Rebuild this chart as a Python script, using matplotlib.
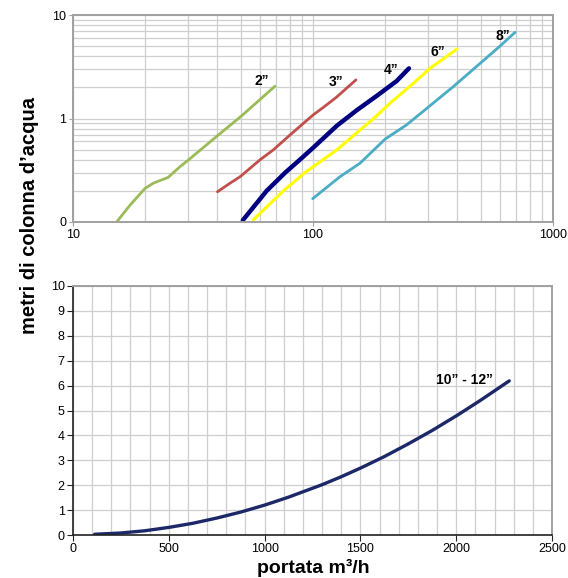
import matplotlib
matplotlib.use("Agg")
import matplotlib.pyplot as plt
from matplotlib.ticker import FixedLocator, NullFormatter, LogLocator

# ---- data ----
# top chart: log-log, portata (m3/h) vs metri di colonna d'acqua
x_2 = [15.2, 17.3, 20.0, 21.6, 24.9, 27.9, 30.0, 40.0, 50.4, 69.4]
y_2 = [0.10, 0.146, 0.212, 0.237, 0.27, 0.342, 0.391, 0.682, 1.06, 2.05]

x_3 = [40.0, 45.1, 49.7, 60.0, 68.3, 80.2, 100, 110.4, 125, 151]
y_3 = [0.196, 0.237, 0.274, 0.397, 0.497, 0.693, 1.08, 1.28, 1.6, 2.36]

x_4 = [51.0, 64.1, 76.6, 88.2, 100, 125.6, 152, 184, 223, 251]
y_4 = [0.104, 0.2, 0.3, 0.4, 0.52, 0.85, 1.2, 1.65, 2.3, 3.05]

x_6 = [56.4, 75.3, 92.6, 125.6, 157, 179, 209, 230, 262, 307, 398]
y_6 = [0.105, 0.2, 0.3, 0.497, 0.774, 1.0, 1.40, 1.69, 2.19, 3.05, 4.69]

x_8 = [99.7, 129.6, 157, 200, 245, 300, 384, 497, 601, 695]
y_8 = [0.168, 0.274, 0.37, 0.634, 0.865, 1.27, 2.03, 3.41, 5.0, 6.8]

top_labels = ["2”", "3”", "4”", "6”", "8”"]
top_label_x = [61, 125, 212, 330, 615]
top_label_y = [2.32, 2.23, 2.96, 4.36, 6.3]

# bottom chart: linear
x_10 = [113, 250, 375, 504, 625, 750, 875, 1000, 1125, 1300, 1400,
        1504, 1625, 1750, 1875, 2008, 2125, 2277]
y_10 = [0.03, 0.08, 0.17, 0.31, 0.47, 0.68, 0.92, 1.2, 1.52, 2.02, 2.34,
        2.7, 3.15, 3.66, 4.2, 4.82, 5.4, 6.19]
bottom_label = "10” - 12”"

top_xticks = [10, 100, 1000]
top_xticklabels = ["10", "100", "1000"]
top_yticks = [0.1, 1, 10]
top_yticklabels = ["0", "1", "10"]
bot_xticks = [0, 500, 1000, 1500, 2000, 2500]
bot_yticks = list(range(0, 11))

# ---- figure ----
W, H = 568, 578
fig = plt.figure(figsize=(W / 100, H / 100), dpi=100)
tickfont = ['Liberation Sans', 'DejaVu Sans']
narrow = ['Liberation Sans Narrow', 'Liberation Sans', 'DejaVu Sans']
gridc = '#cfcfcf'
spinec = '#a0a0a0'

ax1 = fig.add_axes([73 / W, 1 - 222 / H, 480 / W, 207 / H])
ax1.set_xscale('log')
ax1.set_yscale('log')
ax1.set_xlim(10, 1000)
ax1.set_ylim(0.1, 10)
ax1.xaxis.set_major_locator(FixedLocator(top_xticks))
ax1.yaxis.set_major_locator(FixedLocator(top_yticks))
ax1.xaxis.set_minor_locator(LogLocator(base=10, subs=range(2, 10)))
ax1.yaxis.set_minor_locator(LogLocator(base=10, subs=range(2, 10)))
ax1.xaxis.set_minor_formatter(NullFormatter())
ax1.yaxis.set_minor_formatter(NullFormatter())
ax1.set_xticklabels(top_xticklabels, fontfamily=tickfont, fontsize=9)
ax1.set_yticklabels(top_yticklabels, fontfamily=tickfont, fontsize=9)
ax1.grid(True, which='both', color=gridc, linewidth=0.9)
ax1.set_axisbelow(True)
ax1.tick_params(which='minor', length=0)
ax1.tick_params(which='major', length=3, color=spinec, pad=2)
for s in ax1.spines.values():
    s.set_color(spinec)
    s.set_linewidth(1.4)

kw = dict(solid_capstyle='round', solid_joinstyle='round')
ax1.plot(x_2, y_2, color='#9bbb59', lw=2.0, **kw)
ax1.plot(x_3, y_3, color='#c0504d', lw=2.0, **kw)
ax1.plot(x_4, y_4, color='#000080', lw=3.2, **kw)
ax1.plot(x_6, y_6, color='#ffff00', lw=2.2, **kw)
ax1.plot(x_8, y_8, color='#4bacc6', lw=2.0, **kw)
for t, tx, ty in zip(top_labels, top_label_x, top_label_y):
    ax1.text(tx, ty, t, ha='center', va='center', fontsize=10,
             fontweight='bold', fontfamily=narrow)

ax2 = fig.add_axes([73 / W, 1 - 535 / H, 479 / W, 249 / H])
ax2.set_xlim(0, 2500)
ax2.set_ylim(0, 10)
ax2.set_xticks(bot_xticks)
ax2.set_yticks(bot_yticks)
ax2.set_xticks(range(0, 2501, 100), minor=True)
ax2.set_xticklabels([str(v) for v in bot_xticks], fontfamily=tickfont, fontsize=9)
ax2.set_yticklabels([str(v) for v in bot_yticks], fontfamily=tickfont, fontsize=9)
ax2.grid(True, which='both', color=gridc, linewidth=0.9)
ax2.set_axisbelow(True)
ax2.tick_params(which='minor', length=0)
ax2.tick_params(which='major', length=4, color='#222222', pad=2)
for k in ['top', 'right']:
    ax2.spines[k].set_color(spinec)
    ax2.spines[k].set_linewidth(1.4)
for k in ['left', 'bottom']:
    ax2.spines[k].set_color('#222222')
    ax2.spines[k].set_linewidth(1.2)

ax2.plot(x_10, y_10, color='#1c2868', lw=2.4, **kw)
ax2.text(2043, 6.24, bottom_label, ha='center', va='center', fontsize=10,
         fontweight='bold', fontfamily=narrow)

fig.text(30 / W, 1 - 215 / H, "metri di colonna d’acqua", rotation=90,
         ha='center', va='center', fontsize=14.5, fontweight='bold',
         fontfamily=tickfont)
fig.text(313 / W, 1 - 568 / H, "portata m³/h", ha='center', va='center',
         fontsize=14, fontweight='bold', fontfamily=tickfont)

fig.savefig('out.png', dpi=100)
